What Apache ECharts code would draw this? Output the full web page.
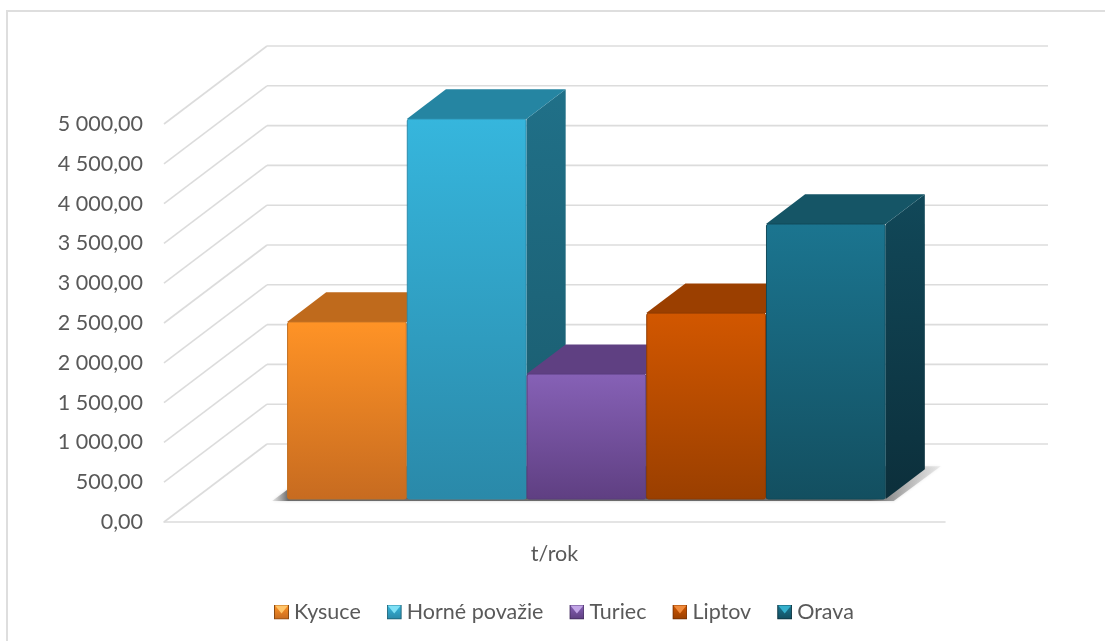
<!DOCTYPE html>
<html>
<head>
<meta charset="utf-8">
<style>html,body{margin:0;padding:0;background:#fff}#c{width:1105px;height:641px}</style>
<script src="https://cdn.jsdelivr.net/npm/echarts@6/dist/echarts.min.js"></script>
</head>
<body>
<div id="c"></div>
<script>
const categories = ['t/rok'];
const seriesNames = ['Kysuce', 'Horné považie', 'Turiec', 'Liptov', 'Orava'];
const seriesValues = [2225, 4775, 1570, 2335, 3455];
const yTicks = [0, 500, 1000, 1500, 2000, 2500, 3000, 3500, 4000, 4500, 5000];

const palette = [
  {frontTop:'#FF9326', frontBot:'#C76B20', top:'#BF6A1C', sideTop:'#A85C18', sideBot:'#8A4A12', edge:'#C27024', light:'#FFC56A'},
  {frontTop:'#36B6DD', frontBot:'#2A89A9', top:'#2585A2', sideTop:'#207088', sideBot:'#1A5A6C', edge:'#2C8CAB', light:'#7FE0F5'},
  {frontTop:'#8661B6', frontBot:'#5F3F82', top:'#5F4082', sideTop:'#4F346E', sideBot:'#3F2958', edge:'#5A3D7E', light:'#C2A5E6'},
  {frontTop:'#D25700', frontBot:'#9A3F00', top:'#9B3F00', sideTop:'#8A3800', sideBot:'#6E2C00', edge:'#8F3B02', light:'#F08B3C'},
  {frontTop:'#1B7590', frontBot:'#134F60', top:'#155566', sideTop:'#114859', sideBot:'#0C2F3B', edge:'#114A5A', light:'#35B0CC'}
];

// 3D projection of the Excel chart: how far the back wall sits behind the front plane
const DEPTH_X = 103, DEPTH_Y = 78;
const Z_FRONT = 0.295, Z_BACK = 0.675;
const BAR_BAND = 0.7665, BAR_SHIFT = 1.5;

function vgrad(a, b) {
  return {type:'linear', x:0, y:0, x2:0, y2:1, colorStops:[{offset:0,color:a},{offset:1,color:b}]};
}
function legendIcon(p) {
  const svg = '<svg xmlns="http://www.w3.org/2000/svg" width="30" height="30" viewBox="0 0 15 15">'
    + '<defs><linearGradient id="g" x1="0" y1="0" x2="0" y2="1"><stop offset="0" stop-color="' + p.frontTop + '"/><stop offset="1" stop-color="' + p.frontBot + '"/></linearGradient></defs>'
    + '<rect x="0.5" y="0.5" width="14" height="14" fill="url(#g)" stroke="' + p.sideBot + '" stroke-width="1"/>'
    + '<polygon points="1,1 14,1 7.5,9" fill="' + p.light + '"/></svg>';
  return 'image://data:image/svg+xml;charset=utf-8,' + encodeURIComponent(svg);
}
function fmt(v) {
  const s = v.toFixed(2).replace('.', ',');
  return s.replace(/\B(?=(\d{3})(?!\d))/, ' ');
}

function wallRender(params, api) {
  const p = api.coord([0, api.value(1)]);
  const half = api.size([1, 0])[0] / 2;
  const style = {stroke:'#DCDCDC', lineWidth:1.6, fill:'none'};
  const left = p[0] - half;
  const backY = p[1] - DEPTH_Y;
  return {type:'group', silent:true, children:[
    {type:'line', shape:{x1:left, y1:p[1], x2:left + DEPTH_X, y2:backY}, style},
    {type:'line', shape:{x1:left + DEPTH_X, y1:backY, x2:left + DEPTH_X + 2 * half, y2:backY}, style}
  ]};
}

function shadowRender(params, api) {
  const p = api.coord([0, 0]);
  const band = api.size([1, 0])[0] * BAR_BAND;
  const l = p[0] + BAR_SHIFT + DEPTH_X * Z_FRONT - band / 2;
  const y0 = p[1] - DEPTH_Y * Z_FRONT + 2;
  const y1 = p[1] - DEPTH_Y * Z_BACK - 3;
  const x0 = l - 15, x1 = l + band + 8, run = 47;
  const total = x1 + run - x0;
  const a = 16 / total, b = (band + 8 + run - 55) / total;
  return {type:'polygon', silent:true,
    shape:{points:[[x0, y0],[x1, y0],[x1 + run, y1],[x0 + run, y1]]},
    style:{fill:{type:'linear', x:0, y:0, x2:1, y2:0, colorStops:[
      {offset:0, color:'rgba(170,170,170,0.25)'},{offset:a, color:'rgba(95,95,95,0.9)'},
      {offset:b, color:'rgba(95,95,95,0.9)'},{offset:1, color:'rgba(190,190,190,0.25)'}]},
      shadowBlur:3, shadowColor:'rgba(170,170,170,0.6)'}};
}

function barRender(idx) {
  return function (params, api) {
    const pal = palette[idx];
    const n = seriesNames.length;
    const base = api.coord([0, 0]);
    const topP = api.coord([0, api.value(1)]);
    const band = api.size([1, 0])[0] * BAR_BAND;
    const w = band / n;
    const left = base[0] + BAR_SHIFT + DEPTH_X * Z_FRONT - band / 2 + idx * w;
    const yB = base[1] - DEPTH_Y * Z_FRONT;
    const yT = topP[1] - DEPTH_Y * Z_FRONT;
    const dx = DEPTH_X * (Z_BACK - Z_FRONT), dy = DEPTH_Y * (Z_BACK - Z_FRONT);
    const r = left + w;
    return {type:'group', silent:true, children:[
      {type:'polygon', shape:{points:[[r, yT],[r + dx, yT - dy],[r + dx, yB - dy],[r, yB]]},
        style:{fill:vgrad(pal.sideTop, pal.sideBot)}},
      {type:'polygon', shape:{points:[[left, yT],[left + dx, yT - dy],[r + dx, yT - dy],[r, yT]]},
        style:{fill:pal.top}},
      {type:'rect', shape:{x:left + 0.5, y:yT, width:w - 1, height:yB - yT, r:2},
        style:{fill:vgrad(pal.frontTop, pal.frontBot), stroke:pal.edge, lineWidth:1}}
    ]};
  };
}

const series = [
  {type:'custom', name:'__wall', silent:true, clip:false, z:1, data:yTicks.map(v => [0, v]),
    encode:{x:0, y:1}, renderItem:wallRender},
  {type:'custom', name:'__shadow', silent:true, clip:false, z:2, data:[[0, 0]],
    encode:{x:0, y:1}, renderItem:shadowRender}
];
seriesNames.forEach((name, i) => series.push({
  type:'custom', name, clip:false, z:3 + i, data:[[0, seriesValues[i]]],
  encode:{x:0, y:1}, itemStyle:{color:palette[i].frontTop}, renderItem:barRender(i)
}));

const chart = echarts.init(document.getElementById('c'), null, {renderer:'canvas'});
const FONT = 'Lato';
chart.setOption({
  animation:false,
  backgroundColor:'#fff',
  textStyle:{fontFamily:FONT},
  grid:{left:164, top:124, width:781, height:398},
  xAxis:{type:'category', data:categories, boundaryGap:true,
    axisLine:{lineStyle:{color:'#DCDCDC', width:1.6}}, axisTick:{show:false},
    axisLabel:{color:'#595959', fontSize:21.5, fontFamily:FONT, margin:21}, splitLine:{show:false}},
  yAxis:{type:'value', min:0, max:5000, interval:500,
    axisLine:{show:false}, axisTick:{show:false}, splitLine:{show:false},
    axisLabel:{color:'#595959', fontSize:21.5, fontFamily:FONT, margin:21, padding:[0,0,0,0], formatter:fmt}},
  legend:{show:true, left:269, top:596, itemWidth:15, itemHeight:15, itemGap:26,
    textStyle:{color:'#595959', fontSize:21.5, fontFamily:FONT},
    data:seriesNames.map((name, i) => ({name, icon:legendIcon(palette[i])})), selectedMode:false},
  graphic:[
    {type:'line', z:-1, silent:true, shape:{x1:6, y1:11, x2:1105, y2:11}, style:{stroke:'#DEDEDE', lineWidth:2}},
    {type:'line', z:-1, silent:true, shape:{x1:7, y1:10, x2:7, y2:641}, style:{stroke:'#DEDEDE', lineWidth:2}}
  ],
  series
});
</script>
</body>
</html>
